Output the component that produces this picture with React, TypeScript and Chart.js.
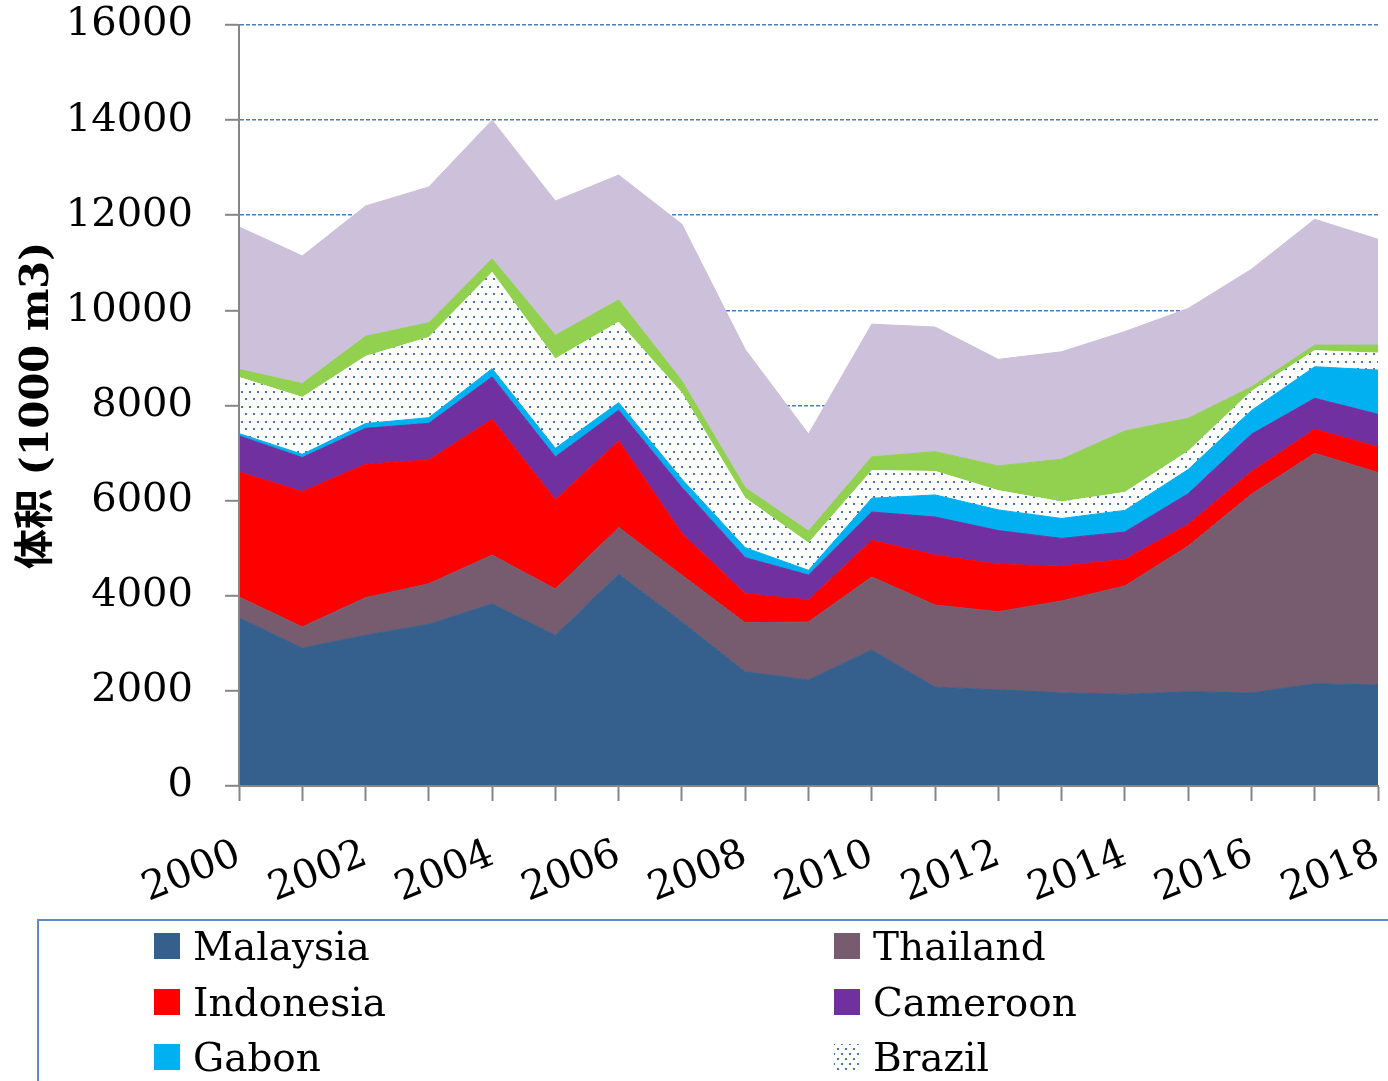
import React, { useEffect, useRef } from 'react';
import { Chart, registerables } from 'chart.js';

Chart.register(...registerables);

const years = ['2000', '2001', '2002', '2003', '2004', '2005', '2006', '2007', '2008', '2009', '2010', '2011', '2012', '2013', '2014', '2015', '2016', '2017', '2018'];
const yTicks = [0, 2000, 4000, 6000, 8000, 10000, 12000, 14000, 16000];

const malaysia = [3540, 2900, 3170, 3400, 3830, 3165, 4455, 3450, 2400, 2230, 2860, 2080, 2020, 1958, 1930, 1980, 1955, 2150, 2125];
const thailand = [435, 445, 790, 850, 1025, 975, 980, 980, 1030, 1220, 1535, 1725, 1645, 1932, 2275, 3065, 4180, 4845, 4465];
const indonesia = [2625, 2845, 2805, 2605, 2855, 1880, 1820, 880, 615, 460, 770, 1050, 995, 735, 560, 455, 475, 505, 540];
const cameroon = [760, 715, 755, 770, 890, 900, 645, 965, 755, 525, 595, 800, 710, 580, 575, 645, 785, 650, 685];
const gabon = [50, 70, 100, 120, 175, 180, 160, 175, 210, 100, 290, 465, 435, 420, 455, 510, 500, 665, 930];
const brazil = [1190, 1205, 1420, 1695, 2030, 1890, 1700, 1820, 1050, 580, 590, 505, 415, 355, 385, 390, 410, 345, 365];
const otherGreen = [160, 280, 415, 300, 280, 485, 460, 245, 210, 245, 280, 405, 510, 890, 1285, 685, 85, 110, 160];
const otherLavender = [2995, 2685, 2740, 2855, 2915, 2825, 2625, 3295, 2910, 2040, 2790, 2620, 2240, 2260, 2090, 2310, 2475, 2645, 2225];

const legendItems = [
  { label: 'Malaysia', color: '#35608D', col: 0, row: 0 },
  { label: 'Thailand', color: '#765C6E', col: 1, row: 0 },
  { label: 'Indonesia', color: '#FF0000', col: 0, row: 1 },
  { label: 'Cameroon', color: '#7030A0', col: 1, row: 1 },
  { label: 'Gabon', color: '#00B0F0', col: 0, row: 2 },
  { label: 'Brazil', color: 'pattern', col: 1, row: 2 },
];

const serif = '"DejaVu Serif", "Liberation Serif", serif';

function makeDotPattern(ctx: CanvasRenderingContext2D): CanvasPattern | string {
  const c = document.createElement('canvas');
  c.width = 8;
  c.height = 15;
  const g = c.getContext('2d');
  if (!g) return '#ffffff';
  g.fillStyle = '#ffffff';
  g.fillRect(0, 0, 8, 15);
  g.fillStyle = '#4472C4';
  g.fillRect(1, 1, 2, 2);
  g.fillRect(5, 8, 2, 2);
  return ctx.createPattern(c, 'repeat') || '#ffffff';
}

export default function App() {
  const canvasRef = useRef<HTMLCanvasElement | null>(null);

  useEffect(() => {
    const canvas = canvasRef.current;
    if (!canvas) return;
    const ctx = canvas.getContext('2d');
    if (!ctx) return;
    const pattern = makeDotPattern(ctx);

    const mk = (label: string, data: number[], color: any, fill: any, border?: string) => ({
      label,
      data,
      backgroundColor: color,
      borderColor: border ?? color,
      borderWidth: 1,
      fill,
      pointRadius: 0,
      tension: 0,
    });

    const chart = new Chart(ctx, {
      type: 'line',
      data: {
        labels: years,
        datasets: [
          mk('Malaysia', malaysia, '#35608D', 'origin'),
          mk('Thailand', thailand, '#765C6E', '-1'),
          mk('Indonesia', indonesia, '#FF0000', '-1'),
          mk('Cameroon', cameroon, '#7030A0', '-1'),
          mk('Gabon', gabon, '#00B0F0', '-1'),
          mk('Brazil', brazil, pattern, '-1', 'rgba(0,0,0,0)'),
          mk('Other (green)', otherGreen, '#92D050', '-1'),
          mk('Other (lavender)', otherLavender, '#CCC0DA', '-1'),
        ],
      },
      options: {
        responsive: false,
        animation: false,
        layout: { padding: { left: 0, top: 25, right: 10, bottom: 0 } },
        plugins: {
          legend: { display: false },
          tooltip: { enabled: false },
        },
        scales: {
          x: {
            type: 'category',
            offset: false,
            grid: {
              drawOnChartArea: false,
              drawTicks: true,
              tickLength: 15,
              tickColor: '#868686',
              tickWidth: 2,
            },
            border: { color: '#868686', width: 2, z: 1 },
            ticks: {
              autoSkip: false,
              maxRotation: 22,
              minRotation: 22,
              padding: 30,
              color: '#000000',
              font: { family: serif, size: 40 },
              callback: (_v: any, i: number) => (i % 2 === 0 ? years[i] : ''),
            },
            afterFit: (s: any) => {
              s.height = 295;
              s.paddingLeft = 0;
              s.paddingRight = 0;
            },
          },
          y: {
            stacked: true,
            min: 0,
            max: 16000,
            afterBuildTicks: (s: any) => {
              s.ticks = yTicks.map((v) => ({ value: v }));
            },
            ticks: {
              padding: 32,
              color: '#000000',
              font: { family: serif, size: 40 },
              callback: (v: any) => String(v),
            },
            grid: {
              color: '#4A7EBB',
              lineWidth: 1.6,
              tickColor: '#868686',
              tickLength: 14,
              tickWidth: 2,
            },
            border: { dash: [4, 2], color: '#868686', width: 2, z: 1 },
            title: {
              display: true,
              text: '体积 (1000 m3)',
              color: '#000000',
              font: { family: '"DejaVu Serif", "Noto Sans CJK SC", serif', size: 40, weight: 'bold' },
              padding: { top: 14, bottom: 0 },
            },
            afterFit: (s: any) => {
              s.width = 239;
              s.paddingTop = 0;
              s.paddingBottom = 0;
            },
          },
        },
      } as any,
    });

    return () => {
      chart.destroy();
    };
  }, []);

  const dotBg =
    'radial-gradient(circle, #4472C4 0.9px, rgba(0,0,0,0) 1.1px) 0px 0px / 8px 10px, radial-gradient(circle, #4472C4 0.9px, rgba(0,0,0,0) 1.1px) 4px 5px / 8px 10px';

  return (
    <div
      style={{
        position: 'absolute',
        left: 0,
        top: 0,
        width: 1388,
        height: 1081,
        overflow: 'hidden',
        background: '#ffffff',
      }}
    >
      <canvas ref={canvasRef} width={1388} height={1081} style={{ display: 'block', width: 1388, height: 1081 }} />
      <div
        style={{
          position: 'absolute',
          left: 37,
          top: 919,
          width: 1400,
          height: 300,
          border: '2px solid #5B8BC9',
          boxSizing: 'border-box',
        }}
      />
      {legendItems.map((it) => {
        const mx = it.col === 0 ? 154 : 834;
        const my = 933 + it.row * 55.5;
        return (
          <React.Fragment key={it.label}>
            <div
              style={{
                position: 'absolute',
                left: mx,
                top: my,
                width: 26,
                height: 26,
                background: it.color === 'pattern' ? dotBg : it.color,
              }}
            />
            <div
              style={{
                position: 'absolute',
                left: mx + 39,
                top: my - 6,
                fontFamily: serif,
                fontSize: 39,
                lineHeight: '39px',
                color: '#000000',
                whiteSpace: 'nowrap',
              }}
            >
              {it.label}
            </div>
          </React.Fragment>
        );
      })}
    </div>
  );
}
